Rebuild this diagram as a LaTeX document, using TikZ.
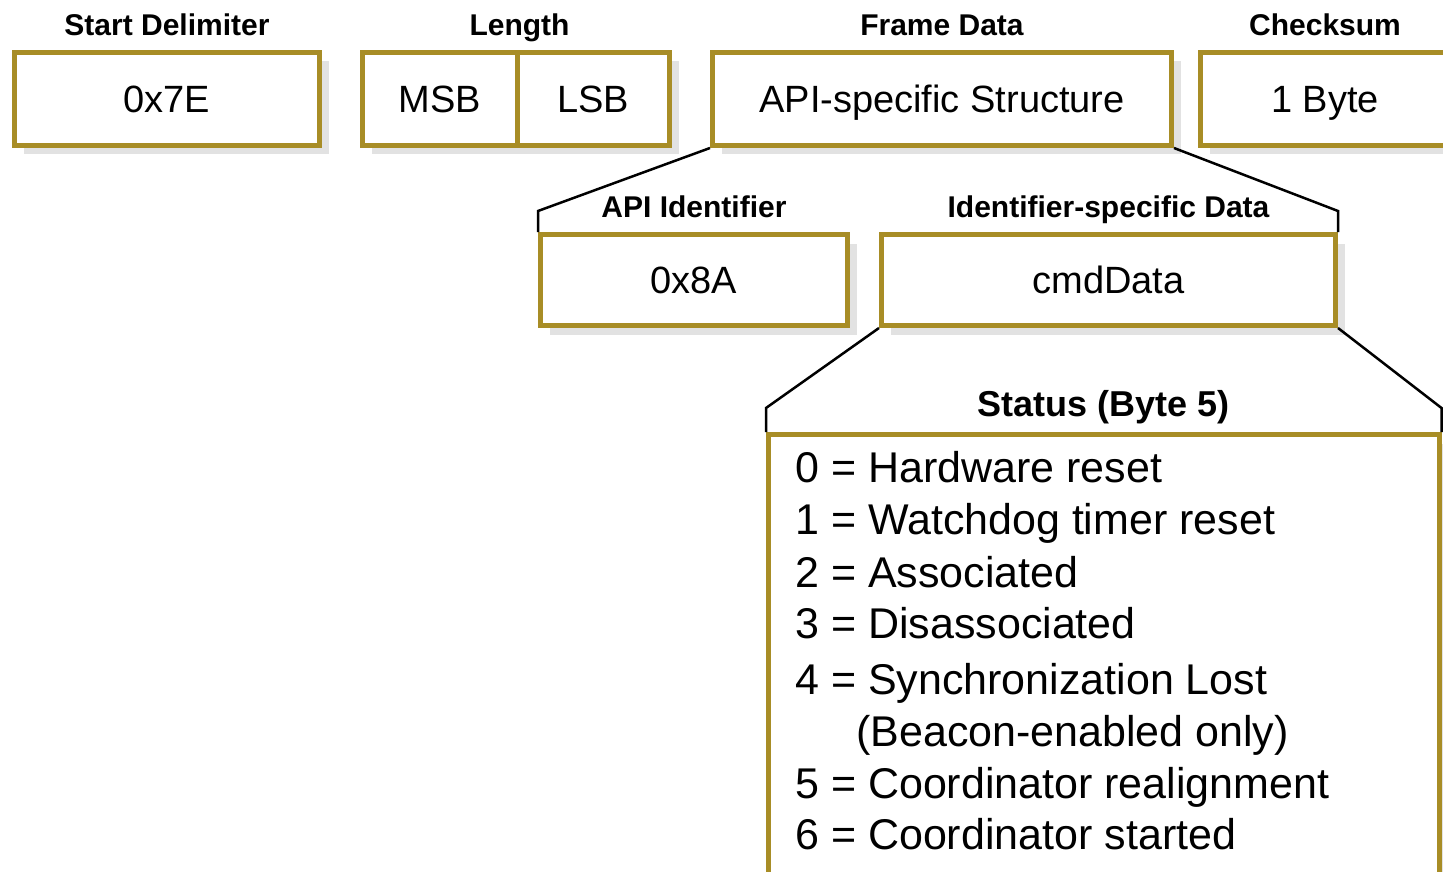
\documentclass[tikz,border=0pt]{standalone}
\usepackage{fontspec}
\setmainfont{Liberation Sans}
\usetikzlibrary{positioning,shadows}
\definecolor{frgold}{RGB}{168,141,38}
\definecolor{frshadow}{RGB}{226,226,226}

\begin{document}
\begin{tikzpicture}[x=1pt,y=-1pt,
    box/.style={draw=frgold,line width=5pt,fill=white,inner sep=0pt,text height=27pt,text depth=0pt,minimum height=93pt,font=\fontsize{38}{40}\selectfont,drop shadow={shadow xshift=9pt,shadow yshift=-9pt,fill=frshadow,opacity=1}},
    head/.style={inner sep=0pt,text depth=0pt,font=\fontsize{30}{32}\selectfont\bfseries},
    listtext/.style={inner sep=0pt,anchor=base west,font=\fontsize{43}{45}\selectfont},
    zoomline/.style={line width=2.5pt,black}]
    \useasboundingbox (0,0) rectangle (1443,872);

    % Frame fields
    \node[box,minimum width=305pt] at (167,99) (delim) {0x7E};
    \node[box,minimum width=154.5pt] at (439.75,99) (msb) {MSB};
    \node[box,minimum width=152.5pt] at (593.25,99) (lsb) {LSB};
    \node[box,minimum width=459pt] at (942,99) (frame) {API-specific Structure};
    \node[box,minimum width=249pt] at (1325,99) (cksum) {1 Byte};

    \node[head,above=14pt of delim] (hdelim) {Start Delimiter};
    \node[head,above=14pt of msb.north east] (hlen) {Length};
    \node[head,above=14pt of frame] (hframe) {Frame Data};
    \node[head,above=14pt of cksum] (hcksum) {Checksum};

    % Frame data split
    \node[box,minimum width=307pt,minimum height=91pt] at (694,280) (apiid) {0x8A};
    \node[box,minimum width=454pt,minimum height=91pt] at (1108.5,280) (iddata) {cmdData};
    \node[head,above=14pt of apiid] (hapiid) {API Identifier};
    \node[head,above=14pt of iddata] (hiddata) {Identifier-specific Data};

    \draw[zoomline] (frame.south west) -- ([yshift=21pt]apiid.north west) -- (apiid.north west);
    \draw[zoomline] (frame.south east) -- ([yshift=21pt]iddata.north east) -- (iddata.north east);

    % Status byte
    \node[box,minimum width=670.5pt,minimum height=466pt] at (1103.75,667.5) (status) {};
    \node[head,font=\fontsize{36}{38}\selectfont\bfseries,above=15pt of status] (hstatus) {Status (Byte 5)};

    \draw[zoomline] (iddata.south west) -- ([yshift=24pt]status.north west) -- (status.north west);
    \draw[zoomline] (iddata.south east) -- ([yshift=24pt]status.north east) -- (status.north east);

    \foreach \x/\y/\txt [count=\i] in {795/482/0 = Hardware reset,795/534/1 = Watchdog timer reset,795/587/2 = Associated,795/638/3 = Disassociated,795/694/4 = Synchronization Lost,856/746/(Beacon-enabled only),795/798/5 = Coordinator realignment,795/849/6 = Coordinator started}
        \node[listtext] at (\x,\y) (st\i) {\txt};
\end{tikzpicture}
\end{document}
